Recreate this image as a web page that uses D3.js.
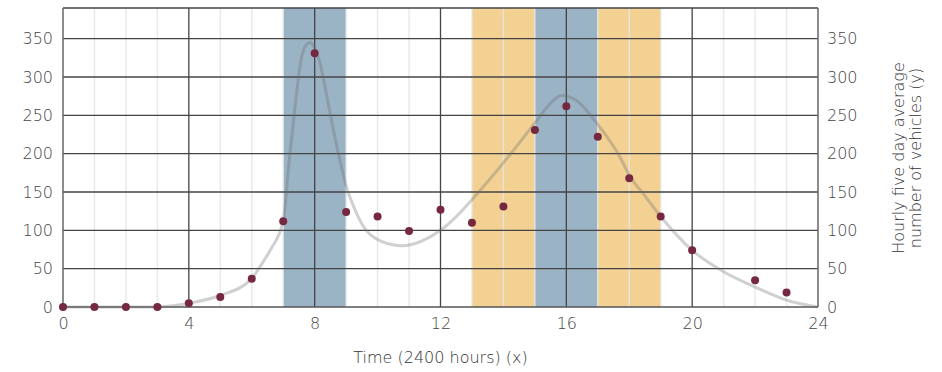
<!DOCTYPE html>
<html>
<head>
<meta charset="utf-8">
<script src="https://cdn.jsdelivr.net/npm/d3@7"></script>
<style>
html,body{margin:0;padding:0;background:#fff;}
svg text{font-family:"DejaVu Sans",sans-serif;font-weight:200;}
</style>
</head>
<body>
<svg id="chart" width="942" height="372"></svg>
<script>
// Observed hourly averages (x = hour, y = vehicles)
const hours  = [0,1,2,3,4,5,6,7,8,9,10,11,12,13,14,15,16,17,18,19,20,22,23];
const counts = [0,0,0,0,5,13,37,112,331,124,118,99,127,110,131,231,262,222,168,118,74,35,19];
// Fitted curve
const curveX = [0,1,2,3,4,5,6,6.3,6.6,7.0,7.2,7.4,7.55,7.7,7.85,8.0,8.17,8.4,8.6,8.8,9.0,9.25,9.55,10.1,10.8,11.4,12.0,12.6,13.0,14.0,15.0,15.55,15.85,16.3,17.0,17.7,18.0,18.5,19.0,20.0,21.0,22.0,23.0,24.0];
const curveY = [0,0,0,0,5,15,37,55,75,113,195,270,318,340,345,338,318,272,230,192,158,130,105,86,80,86,100,122,140,188,240,268,276,270,238,196,172,145,118,74,46,26,9,0];
// Shaded bands
const bandStart = [7,15,13,17];
const bandEnd   = [9,17,15,19];
const bandKind  = ["blue","blue","orange","orange"];
const xTicks = [0,4,8,12,16,20,24];
const yTicks = [0,50,100,150,200,250,300,350];
const xTitle = "Time (2400 hours) (x)";
const yTitle = ["Hourly five day average","number of vehicles (y)"];

const W=942,H=372, m={l:63,r:124,t:8,b:65};
const FONT="'DejaVu Sans',sans-serif";
const svg=d3.select("#chart");
const x=d3.scaleLinear().domain([0,24]).range([m.l,W-m.r]);
const y=d3.scaleLinear().domain([0,390]).range([H-m.b,m.t]);
const colors={blue:"#9ab3c5",orange:"#f2d192"};

// bands
svg.append("g").selectAll("rect").data(bandStart.map((s,i)=>({s,e:bandEnd[i],k:bandKind[i]})))
  .join("rect").attr("x",d=>x(d.s)).attr("width",d=>x(d.e)-x(d.s))
  .attr("y",m.t).attr("height",y(0)-m.t).attr("fill",d=>colors[d.k]);

// minor vertical grid
const minor=d3.range(1,24).filter(h=>h%4!==0);
svg.append("g").selectAll("line").data(minor).join("line")
  .attr("x1",d=>x(d)).attr("x2",d=>x(d)).attr("y1",m.t).attr("y2",y(0))
  .attr("stroke","#e6e6e6").attr("stroke-opacity",0.85).attr("stroke-width",1.5);

// major grid
svg.append("g").selectAll("line").data(yTicks.slice(1)).join("line")
  .attr("x1",m.l).attr("x2",W-m.r).attr("y1",d=>y(d)).attr("y2",d=>y(d))
  .attr("stroke","#444").attr("stroke-width",1.3);
svg.append("line").attr("x1",m.l).attr("x2",W-m.r).attr("y1",m.t).attr("y2",m.t)
  .attr("stroke","#444").attr("stroke-width",1.3);
svg.append("g").selectAll("line").data(xTicks.slice(1,-1)).join("line")
  .attr("x1",d=>x(d)).attr("x2",d=>x(d)).attr("y1",m.t).attr("y2",y(0))
  .attr("stroke","#444").attr("stroke-width",1.3);
// axis frame lines
svg.append("line").attr("x1",x(0)).attr("x2",x(0)).attr("y1",m.t).attr("y2",y(0)).attr("stroke","#666").attr("stroke-width",1.5);
svg.append("line").attr("x1",x(24)).attr("x2",x(24)).attr("y1",m.t).attr("y2",y(0)).attr("stroke","#666").attr("stroke-width",1.5);
svg.append("line").attr("x1",m.l).attr("x2",W-m.r).attr("y1",y(0)).attr("y2",y(0)).attr("stroke","#555").attr("stroke-width",1.5);

// curve
const line=d3.line().x(d=>x(d[0])).y(d=>y(d[1])).curve(d3.curveMonotoneX);
svg.append("path").datum(curveX.map((v,i)=>[v,curveY[i]])).attr("d",line)
  .attr("fill","none").attr("stroke","#6e6e6e").attr("stroke-opacity",0.32).attr("stroke-width",3);

// points
svg.append("g").selectAll("circle").data(hours.map((h,i)=>[h,counts[i]])).join("circle")
  .attr("cx",d=>x(d[0])).attr("cy",d=>y(d[1])).attr("r",4).attr("fill","#772841");

// axes labels
const axL=d3.axisLeft(y).tickValues(yTicks).tickSize(0).tickPadding(10);
const axR=d3.axisRight(y).tickValues(yTicks).tickSize(0).tickPadding(9);
const axB=d3.axisBottom(x).tickValues(xTicks).tickSize(0).tickPadding(11);
function style(g){g.select(".domain").remove();g.selectAll("text").attr("fill","#444").style("font-size","16px").style("font-family",FONT).style("font-weight",200);}
svg.append("g").attr("transform",`translate(${m.l},0)`).call(axL).call(style);
svg.append("g").attr("transform",`translate(${W-m.r},0)`).call(axR).call(style);
svg.append("g").attr("transform",`translate(0,${y(0)})`).call(axB).call(style);

svg.append("text").attr("x",(x(0)+x(24))/2).attr("y",363).attr("text-anchor","middle")
  .attr("fill","#333").style("font-size","16px").text(xTitle);
const yt=svg.append("text").attr("transform",`translate(906,158) rotate(-90)`).attr("text-anchor","middle")
  .attr("fill","#333").style("font-size","16px");
yTitle.forEach((t,i)=>yt.append("tspan").attr("x",0).attr("dy",i?"1.05em":"-0.1em").text(t));
</script>
</body>
</html>
